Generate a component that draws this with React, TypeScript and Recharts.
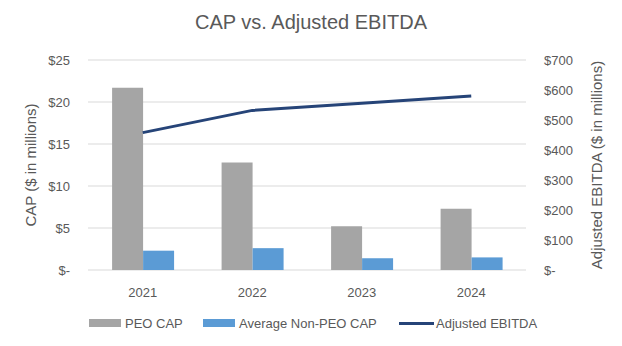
import {
  Bar,
  CartesianGrid,
  ComposedChart,
  Legend,
  Line,
  XAxis,
  YAxis,
} from "recharts";

const years = ["2021", "2022", "2023", "2024"];
const peoCap = [21.7, 12.8, 5.2, 7.3];
const nonPeoCap = [2.3, 2.6, 1.4, 1.5];
const adjustedEbitda = [458, 532, 556, 580];
const capTicks = [0, 5, 10, 15, 20, 25];
const ebitdaTicks = [0, 100, 200, 300, 400, 500, 600, 700];

const data = years.map((year, i) => ({
  year,
  peo: peoCap[i],
  nonPeo: nonPeoCap[i],
  ebitda: adjustedEbitda[i],
}));

const FONT = "'Liberation Sans', Arial, sans-serif";
const TEXT = "#595959";

const money = (v: number) => (v === 0 ? "$-" : `$${v}`);

function ChartLegend() {
  const items = [
    { label: "PEO CAP", color: "#A5A5A5", kind: "bar", x: 0 },
    { label: "Average Non-PEO CAP", color: "#5B9BD5", kind: "bar", x: 114 },
    { label: "Adjusted EBITDA", color: "#264478", kind: "line", x: 310 },
  ];
  return (
    <div style={{ position: "relative", height: 20, width: 480, fontFamily: FONT, fontSize: 13, color: TEXT }}>
      {items.map((it) => (
        <div
          key={it.label}
          style={{ position: "absolute", left: it.x, top: 0, height: 20, display: "flex", alignItems: "center", whiteSpace: "nowrap" }}
        >
          <span
            style={{
              display: "inline-block",
              width: it.kind === "line" ? 35 : 32,
              height: it.kind === "line" ? 3 : 8,
              background: it.color,
              marginRight: it.kind === "line" ? 2 : 4,
            }}
          />
          {it.label}
        </div>
      ))}
    </div>
  );
}

export default function App() {
  return (
    <div style={{ position: "absolute", left: 0, top: 0, width: 622, height: 346, background: "#fff" }}>
      <div
        style={{
          position: "absolute",
          top: 11,
          width: 622,
          textAlign: "center",
          fontFamily: FONT,
          fontSize: 20,
          color: TEXT,
        }}
      >
        CAP vs. Adjusted EBITDA
      </div>
      <ComposedChart
        width={622}
        height={346}
        data={data}
        margin={{ top: 60, right: 0, bottom: 0, left: 0 }}
        barGap={0}
        barCategoryGap="22%"
      >
        <CartesianGrid vertical={false} stroke="#D9D9D9" strokeWidth={1} yAxisId="left" />
        <XAxis
          dataKey="year"
          axisLine={false}
          tickLine={false}
          height={56}
          tickMargin={12}
          tick={{ fill: TEXT, fontSize: 13, fontFamily: FONT }}
        />
        <YAxis
          yAxisId="left"
          width={88}
          domain={[0, 25]}
          ticks={capTicks}
          tickFormatter={money}
          axisLine={false}
          tickLine={false}
          tickMargin={12}
          tick={{ fill: TEXT, fontSize: 13, fontFamily: FONT }}
          label={{
            value: "CAP ($ in millions)",
            angle: -90,
            position: "insideLeft",
            offset: 31,
            style: { textAnchor: "middle", fill: TEXT, fontSize: 15, fontFamily: FONT },
          }}
        />
        <YAxis
          yAxisId="right"
          orientation="right"
          width={96}
          domain={[0, 700]}
          ticks={ebitdaTicks}
          tickFormatter={money}
          axisLine={false}
          tickLine={false}
          tickMargin={12}
          tick={{ fill: TEXT, fontSize: 13, fontFamily: FONT }}
          label={{
            value: "Adjusted EBITDA ($ in millions)",
            angle: -90,
            position: "insideRight",
            offset: 25,
            style: { textAnchor: "middle", fill: TEXT, fontSize: 15, fontFamily: FONT },
          }}
        />
        <Legend
          verticalAlign="bottom"
          align="left"
          height={20}
          wrapperStyle={{ left: 89, bottom: 13 }}
          content={() => <ChartLegend />}
        />
        <Bar yAxisId="left" dataKey="peo" name="PEO CAP" fill="#A5A5A5" isAnimationActive={false} />
        <Bar
          yAxisId="left"
          dataKey="nonPeo"
          name="Average Non-PEO CAP"
          fill="#5B9BD5"
          isAnimationActive={false}
        />
        <Line
          yAxisId="right"
          dataKey="ebitda"
          name="Adjusted EBITDA"
          stroke="#264478"
          strokeWidth={3}
          dot={false}
          isAnimationActive={false}
        />
      </ComposedChart>
    </div>
  );
}
